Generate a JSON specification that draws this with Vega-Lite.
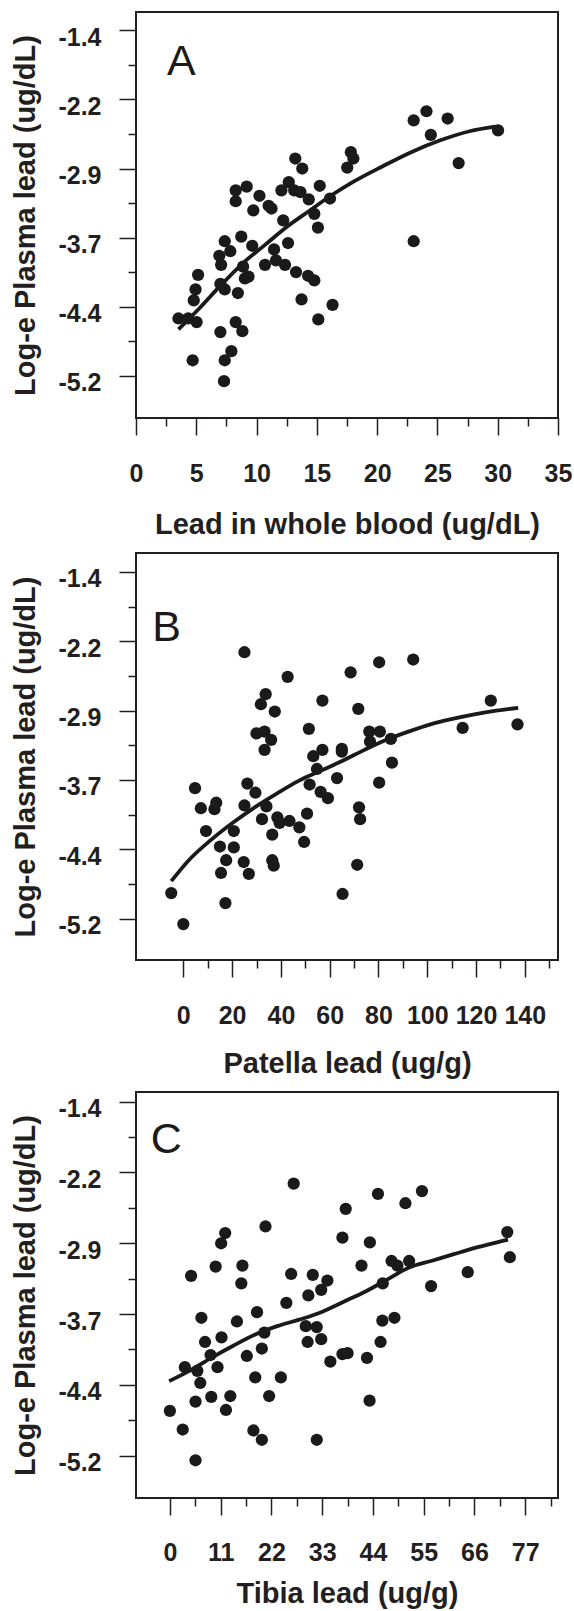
{
  "$schema": "https://vega.github.io/schema/vega-lite/v6.json",
  "padding": {"left": 10, "top": 11, "right": 0, "bottom": 0},
  "spacing": 12,
  "config": {
    "view": {"stroke": "#231f20", "strokeWidth": 2},
    "axis": {
      "domain": false, "grid": false, "tickColor": "#231f20", "tickWidth": 1.5,
      "labelFont": "Liberation Sans", "labelFontWeight": "bold", "labelColor": "#231f20", "labelFontSize": 25,
      "titleFont": "Liberation Sans", "titleFontWeight": "bold", "titleColor": "#231f20", "titleFontSize": 29,
      "labelFlush": false, "labelOverlap": false
    }
  },
  "datasets": {
    "pointsA": [
      {"x":3.52,"y":-4.57},{"x":4.33,"y":-4.57},{"x":5.03,"y":-4.61},{"x":4.79,"y":-4.37},{"x":4.94,"y":-4.25},{"x":5.15,"y":-4.09},{"x":4.70,"y":-5.03},{"x":7.00,"y":-4.72},{"x":7.36,"y":-5.03},{"x":7.91,"y":-4.93},{"x":7.30,"y":-5.26},{"x":8.27,"y":-4.61},{"x":8.82,"y":-4.71},{"x":8.45,"y":-4.29},{"x":7.36,"y":-4.25},{"x":7.00,"y":-4.19},{"x":7.06,"y":-3.98},{"x":6.91,"y":-3.88},{"x":7.82,"y":-3.83},{"x":7.36,"y":-3.72},{"x":8.73,"y":-3.67},{"x":8.27,"y":-3.16},{"x":8.27,"y":-3.28},{"x":9.18,"y":-3.12},{"x":9.73,"y":-3.38},{"x":9.64,"y":-3.77},{"x":8.88,"y":-4.00},{"x":9.03,"y":-4.13},{"x":9.33,"y":-4.11},{"x":10.24,"y":-3.22},{"x":11.0,"y":-3.33},{"x":11.24,"y":-3.36},{"x":10.70,"y":-3.98},{"x":11.45,"y":-3.81},{"x":11.61,"y":-3.93},{"x":12.21,"y":-3.49},{"x":12.61,"y":-3.74},{"x":12.36,"y":-3.98},{"x":12.06,"y":-3.16},{"x":12.67,"y":-3.07},{"x":13.12,"y":-3.16},{"x":13.21,"y":-2.81},{"x":13.79,"y":-2.92},{"x":13.64,"y":-3.18},{"x":14.33,"y":-3.26},{"x":14.79,"y":-3.42},{"x":15.09,"y":-3.57},{"x":15.24,"y":-3.11},{"x":16.09,"y":-3.25},{"x":13.27,"y":-4.06},{"x":14.27,"y":-4.10},{"x":14.79,"y":-4.15},{"x":13.73,"y":-4.36},{"x":15.12,"y":-4.58},{"x":16.30,"y":-4.42},{"x":17.52,"y":-2.91},{"x":17.82,"y":-2.74},{"x":18.03,"y":-2.81},{"x":23.03,"y":-2.39},{"x":24.09,"y":-2.29},{"x":24.45,"y":-2.55},{"x":25.85,"y":-2.37},{"x":26.76,"y":-2.86},{"x":30.03,"y":-2.50},{"x":23.03,"y":-3.72}
    ],
    "curveA": [
      {"x":3.52,"y":-4.69},{"x":5.24,"y":-4.46},{"x":7.06,"y":-4.20},{"x":8.88,"y":-3.96},{"x":10.70,"y":-3.76},{"x":12.52,"y":-3.56},{"x":14.33,"y":-3.39},{"x":16.15,"y":-3.22},{"x":17.97,"y":-3.07},{"x":20.39,"y":-2.90},{"x":22.82,"y":-2.74},{"x":25.24,"y":-2.61},{"x":27.67,"y":-2.51},{"x":29.79,"y":-2.46}
    ],
    "pointsB": [
      {"x":-4.95,"y":-4.92},{"x":0,"y":-5.26},{"x":4.80,"y":-3.77},{"x":7.20,"y":-3.99},{"x":12.76,"y":-4.00},{"x":13.5,"y":-3.93},{"x":9.30,"y":-4.24},{"x":15.0,"y":-4.41},{"x":17.56,"y":-4.56},{"x":15.46,"y":-4.70},{"x":17.26,"y":-5.03},{"x":20.7,"y":-4.24},{"x":20.7,"y":-4.42},{"x":24.76,"y":-4.58},{"x":26.86,"y":-4.71},{"x":25.06,"y":-2.28},{"x":25.06,"y":-3.96},{"x":26.26,"y":-3.72},{"x":29.56,"y":-3.82},{"x":30.0,"y":-3.17},{"x":33.3,"y":-3.15},{"x":31.8,"y":-2.85},{"x":33.76,"y":-2.74},{"x":33.3,"y":-3.35},{"x":36.0,"y":-3.24},{"x":37.5,"y":-2.93},{"x":34.06,"y":-3.97},{"x":32.26,"y":-4.11},{"x":36.46,"y":-4.28},{"x":36.46,"y":-4.56},{"x":37.06,"y":-4.62},{"x":38.56,"y":-4.09},{"x":39.46,"y":-4.15},{"x":43.52,"y":-4.13},{"x":42.77,"y":-2.55},{"x":47.57,"y":-4.20},{"x":49.52,"y":-4.36},{"x":50.72,"y":-4.05},{"x":51.47,"y":-3.12},{"x":51.77,"y":-3.73},{"x":53.27,"y":-3.42},{"x":54.77,"y":-3.56},{"x":56.27,"y":-3.81},{"x":59.27,"y":-3.88},{"x":57.02,"y":-3.35},{"x":57.02,"y":-2.81},{"x":63.02,"y":-3.66},{"x":64.98,"y":-3.34},{"x":64.98,"y":-3.37},{"x":65.28,"y":-4.93},{"x":68.58,"y":-2.50},{"x":71.73,"y":-2.90},{"x":72.03,"y":-3.98},{"x":72.48,"y":-4.11},{"x":71.28,"y":-4.61},{"x":76.23,"y":-3.15},{"x":76.53,"y":-3.26},{"x":80.58,"y":-3.15},{"x":80.28,"y":-2.39},{"x":80.28,"y":-3.71},{"x":85.08,"y":-3.23},{"x":85.53,"y":-3.49},{"x":94.24,"y":-2.36},{"x":114.5,"y":-3.11},{"x":126.05,"y":-2.81},{"x":137.0,"y":-3.07}
    ],
    "curveB": [
      {"x":-4.95,"y":-4.79},{"x":2.25,"y":-4.56},{"x":11.25,"y":-4.34},{"x":20.26,"y":-4.15},{"x":29.26,"y":-3.98},{"x":38.27,"y":-3.83},{"x":47.27,"y":-3.69},{"x":56.27,"y":-3.58},{"x":65.28,"y":-3.47},{"x":74.28,"y":-3.35},{"x":83.28,"y":-3.24},{"x":92.29,"y":-3.15},{"x":101.3,"y":-3.07},{"x":110.3,"y":-3.01},{"x":119.3,"y":-2.96},{"x":128.3,"y":-2.92},{"x":137.3,"y":-2.89}
    ],
    "pointsC": [
      {"x":0,"y":-4.72},{"x":2.78,"y":-4.92},{"x":5.56,"y":-5.25},{"x":5.56,"y":-4.62},{"x":6.59,"y":-4.42},{"x":5.95,"y":-4.29},{"x":3.25,"y":-4.25},{"x":4.60,"y":-3.27},{"x":6.83,"y":-3.72},{"x":7.62,"y":-3.98},{"x":8.81,"y":-4.12},{"x":8.97,"y":-4.57},{"x":10.32,"y":-4.25},{"x":9.92,"y":-3.17},{"x":11.19,"y":-3.93},{"x":11.11,"y":-2.92},{"x":11.99,"y":-2.81},{"x":12.15,"y":-4.71},{"x":13.10,"y":-4.56},{"x":14.53,"y":-3.76},{"x":15.48,"y":-3.35},{"x":15.72,"y":-3.16},{"x":16.67,"y":-4.13},{"x":18.5,"y":-4.36},{"x":18.1,"y":-4.93},{"x":19.93,"y":-5.03},{"x":18.89,"y":-3.66},{"x":19.93,"y":-4.05},{"x":20.48,"y":-3.88},{"x":20.72,"y":-2.74},{"x":21.51,"y":-4.56},{"x":24.05,"y":-4.36},{"x":25.24,"y":-3.56},{"x":26.28,"y":-3.25},{"x":26.83,"y":-2.28},{"x":29.45,"y":-3.81},{"x":29.85,"y":-3.98},{"x":30.0,"y":-3.48},{"x":30.96,"y":-3.26},{"x":31.83,"y":-3.82},{"x":32.79,"y":-3.95},{"x":32.79,"y":-3.42},{"x":31.83,"y":-5.03},{"x":34.13,"y":-3.32},{"x":34.77,"y":-4.19},{"x":37.39,"y":-4.11},{"x":38.5,"y":-4.10},{"x":37.39,"y":-2.86},{"x":38.1,"y":-2.55},{"x":41.52,"y":-3.16},{"x":42.71,"y":-4.15},{"x":43.27,"y":-4.61},{"x":43.34,"y":-2.91},{"x":45.09,"y":-2.39},{"x":45.65,"y":-3.98},{"x":46.04,"y":-3.75},{"x":46.12,"y":-3.35},{"x":48.03,"y":-3.11},{"x":49.30,"y":-3.16},{"x":48.66,"y":-3.72},{"x":51.04,"y":-2.49},{"x":51.84,"y":-3.11},{"x":54.62,"y":-2.36},{"x":56.6,"y":-3.38},{"x":64.54,"y":-3.23},{"x":73.11,"y":-2.80},{"x":73.67,"y":-3.07}
    ],
    "curveC": [
      {"x":-0.16,"y":-4.40},{"x":4.21,"y":-4.29},{"x":8.97,"y":-4.15},{"x":13.73,"y":-4.02},{"x":18.50,"y":-3.90},{"x":23.26,"y":-3.81},{"x":28.02,"y":-3.74},{"x":32.79,"y":-3.66},{"x":37.55,"y":-3.55},{"x":42.31,"y":-3.44},{"x":47.07,"y":-3.31},{"x":51.84,"y":-3.18},{"x":56.60,"y":-3.11},{"x":61.36,"y":-3.04},{"x":66.12,"y":-2.97},{"x":70.89,"y":-2.91},{"x":73.27,"y":-2.88}
    ]
  },
  "vconcat": [
    {
      "width": 422, "height": 406,
      "layer": [
        {
          "data": {"name": "pointsA"},
          "mark": {"type": "circle", "size": 150, "opacity": 1, "color": "#1a1a1a"},
          "encoding": {
            "x": {"field": "x", "type": "quantitative", "scale": {"domain": [0, 35], "nice": false, "zero": false},
                  "axis": {"orient": "bottom", "values": [0,5,10,15,20,25,30,35], "format": "d", "tickSize": 17, "labelPadding": 26, "title": "Lead in whole blood (ug/dL)", "titlePadding": 24}},
            "y": {"field": "y", "type": "quantitative", "scale": {"domain": [-5.665, -1.198], "nice": false, "zero": false},
                  "axis": {"orient": "left", "values": [-1.4,-2.16,-2.92,-3.68,-4.44,-5.2], "labelExpr": "'-' + format(abs(datum.value), '.1f')", "tickSize": 17, "labelPadding": 18, "labelOffset": 7, "title": "Log-e Plasma lead (ug/dL)", "titlePadding": 17}}
          }
        },
        {
          "data": {"name": "curveA"},
          "mark": {"type": "line", "interpolate": "monotone", "strokeWidth": 3.8, "color": "#1a1a1a"},
          "encoding": {
            "x": {"field": "x", "type": "quantitative", "scale": {"domain": [0, 35], "nice": false, "zero": false},
                  "axis": {"orient": "bottom", "values": [2.5,7.5,12.5,17.5,22.5,27.5,32.5], "tickSize": 8, "labels": false, "title": null}},
            "y": {"field": "y", "type": "quantitative", "scale": {"domain": [-5.665, -1.198], "nice": false, "zero": false},
                  "axis": {"orient": "left", "values": [-1.78,-2.54,-3.3,-4.06,-4.82], "tickSize": 8, "labels": false, "title": null}}
          }
        },
        {
          "data": {"values": [{"x": 2.57, "y": -1.887, "label": "A"}]},
          "mark": {"type": "text", "align": "left", "baseline": "alphabetic", "fontSize": 43, "font": "Liberation Sans", "color": "#1a1a1a"},
          "encoding": {
            "x": {"field": "x", "type": "quantitative", "scale": {"domain": [0, 35], "nice": false, "zero": false}, "axis": null},
            "y": {"field": "y", "type": "quantitative", "scale": {"domain": [-5.665, -1.198], "nice": false, "zero": false}, "axis": null},
            "text": {"field": "label"}
          }
        }
      ],
      "resolve": {"axis": {"x": "independent", "y": "independent"}}
    },
    {
      "width": 422, "height": 407,
      "layer": [
        {
          "data": {"name": "pointsB"},
          "mark": {"type": "circle", "size": 150, "opacity": 1, "color": "#1a1a1a"},
          "encoding": {
            "x": {"field": "x", "type": "quantitative", "scale": {"domain": [-19.4, 153.6], "nice": false, "zero": false},
                  "axis": {"orient": "bottom", "values": [0,20,40,60,80,100,120,140], "format": "d", "tickSize": 17, "labelPadding": 26, "title": "Patella lead (ug/g)", "titlePadding": 21}},
            "y": {"field": "y", "type": "quantitative", "scale": {"domain": [-5.654, -1.192], "nice": false, "zero": false},
                  "axis": {"orient": "left", "values": [-1.4,-2.16,-2.92,-3.68,-4.44,-5.2], "labelExpr": "'-' + format(abs(datum.value), '.1f')", "tickSize": 17, "labelPadding": 18, "labelOffset": 7, "title": "Log-e Plasma lead (ug/dL)", "titlePadding": 17}}
          }
        },
        {
          "data": {"name": "curveB"},
          "mark": {"type": "line", "interpolate": "monotone", "strokeWidth": 3.8, "color": "#1a1a1a"},
          "encoding": {
            "x": {"field": "x", "type": "quantitative", "scale": {"domain": [-19.4, 153.6], "nice": false, "zero": false},
                  "axis": {"orient": "bottom", "values": [10,30,50,70,90,110,130,150], "tickSize": 8, "labels": false, "title": null}},
            "y": {"field": "y", "type": "quantitative", "scale": {"domain": [-5.654, -1.192], "nice": false, "zero": false},
                  "axis": {"orient": "left", "values": [-1.78,-2.54,-3.3,-4.06,-4.82], "tickSize": 8, "labels": false, "title": null}}
          }
        },
        {
          "data": {"values": [{"x": -12.7, "y": -2.16, "label": "B"}]},
          "mark": {"type": "text", "align": "left", "baseline": "alphabetic", "fontSize": 43, "font": "Liberation Sans", "color": "#1a1a1a"},
          "encoding": {
            "x": {"field": "x", "type": "quantitative", "scale": {"domain": [-19.4, 153.6], "nice": false, "zero": false}, "axis": null},
            "y": {"field": "y", "type": "quantitative", "scale": {"domain": [-5.654, -1.192], "nice": false, "zero": false}, "axis": null},
            "text": {"field": "label"}
          }
        }
      ],
      "resolve": {"axis": {"x": "independent", "y": "independent"}}
    },
    {
      "width": 422, "height": 406,
      "layer": [
        {
          "data": {"name": "pointsC"},
          "mark": {"type": "circle", "size": 150, "opacity": 1, "color": "#1a1a1a"},
          "encoding": {
            "x": {"field": "x", "type": "quantitative", "scale": {"domain": [-7.34, 84.1], "nice": false, "zero": false},
                  "axis": {"orient": "bottom", "values": [0,11,22,33,44,55,66,77], "format": "d", "tickSize": 17, "labelPadding": 25, "title": "Tibia lead (ug/g)", "titlePadding": 14}},
            "y": {"field": "y", "type": "quantitative", "scale": {"domain": [-5.655, -1.296], "nice": false, "zero": false},
                  "axis": {"orient": "left", "values": [-1.4,-2.16,-2.92,-3.68,-4.44,-5.2], "labelExpr": "'-' + format(abs(datum.value), '.1f')", "tickSize": 17, "labelPadding": 18, "labelOffset": 7, "title": "Log-e Plasma lead (ug/dL)", "titlePadding": 17}}
          }
        },
        {
          "data": {"name": "curveC"},
          "mark": {"type": "line", "interpolate": "monotone", "strokeWidth": 3.8, "color": "#1a1a1a"},
          "encoding": {
            "x": {"field": "x", "type": "quantitative", "scale": {"domain": [-7.34, 84.1], "nice": false, "zero": false},
                  "axis": {"orient": "bottom", "values": [5.5,16.5,27.5,38.5,49.5,60.5,71.5,82.5], "tickSize": 8, "labels": false, "title": null}},
            "y": {"field": "y", "type": "quantitative", "scale": {"domain": [-5.655, -1.296], "nice": false, "zero": false},
                  "axis": {"orient": "left", "values": [-1.78,-2.54,-3.3,-4.06,-4.82], "tickSize": 8, "labels": false, "title": null}}
          }
        },
        {
          "data": {"values": [{"x": -4.16, "y": -1.95, "label": "C"}]},
          "mark": {"type": "text", "align": "left", "baseline": "alphabetic", "fontSize": 43, "font": "Liberation Sans", "color": "#1a1a1a"},
          "encoding": {
            "x": {"field": "x", "type": "quantitative", "scale": {"domain": [-7.34, 84.1], "nice": false, "zero": false}, "axis": null},
            "y": {"field": "y", "type": "quantitative", "scale": {"domain": [-5.655, -1.296], "nice": false, "zero": false}, "axis": null},
            "text": {"field": "label"}
          }
        }
      ],
      "resolve": {"axis": {"x": "independent", "y": "independent"}}
    }
  ]
}
